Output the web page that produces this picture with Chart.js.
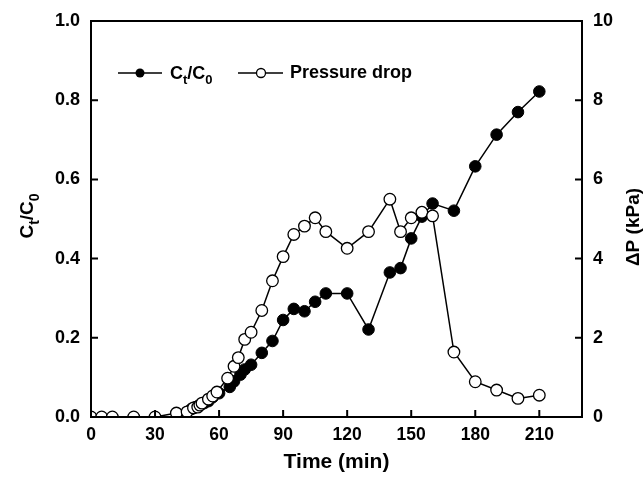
<!DOCTYPE html>
<html>
<head>
<meta charset="utf-8">
<script src="https://cdn.jsdelivr.net/npm/chart.js@4/dist/chart.umd.min.js"></script>
<style>
  body { margin: 0; background: #fff; }
  #wrap { width: 644px; height: 477px; position: relative; }
</style>
</head>
<body>
<div id="wrap"><canvas id="grafico"></canvas></div>
<script>
// Ct/C0 (filled circles), left axis
const tempoCt = [47, 49, 51, 53, 55, 57, 60, 65, 67, 70, 72, 75, 80, 85, 90, 95, 100, 105, 110, 120, 130, 140, 145, 150, 155, 160, 170, 180, 190, 200, 210];
const razaoCt = [0.02, 0.025, 0.03, 0.035, 0.04, 0.05, 0.06, 0.076, 0.09, 0.107, 0.12, 0.132, 0.162, 0.192, 0.245, 0.273, 0.267, 0.291, 0.312, 0.312, 0.221, 0.365, 0.376, 0.451, 0.506, 0.539, 0.521, 0.633, 0.713, 0.77, 0.822];

// pressure drop (open circles), right axis, kPa
const tempoDp = [0, 5, 10, 20, 30, 40, 45, 48, 50, 51, 52, 55, 57, 59, 64, 67, 69, 72, 75, 80, 85, 90, 95, 100, 105, 110, 120, 130, 140, 145, 150, 155, 160, 170, 180, 190, 200, 210];
const quedaPressao = [0, 0, 0, 0, 0, 0.1, 0.13, 0.23, 0.25, 0.3, 0.35, 0.45, 0.53, 0.63, 0.98, 1.28, 1.5, 1.96, 2.14, 2.69, 3.44, 4.05, 4.61, 4.82, 5.03, 4.68, 4.26, 4.68, 5.5, 4.68, 5.03, 5.17, 5.08, 1.64, 0.89, 0.68, 0.47, 0.55];

const ticksX = [0, 30, 60, 90, 120, 150, 180, 210];
const ticksEsq = [0, 0.2, 0.4, 0.6, 0.8, 1.0];
const ticksDir = [0, 2, 4, 6, 8, 10];

const FONTE = '"Liberation Sans", Arial, sans-serif';

function toPts(xs, ys) {
    return xs.map((x, i) => ({ x: x, y: ys[i] }));
}

// text with subscripts: parts = [[text, isSub], ...], centered on x
function textoRico(ctx, parts, x, y, size) {
    const subSize = Math.round(size * 0.72);
    let w = 0;
    parts.forEach(p => {
        ctx.font = `bold ${p[1] ? subSize : size}px ${FONTE}`;
        w += ctx.measureText(p[0]).width;
    });
    let cx = x - w / 2;
    ctx.textAlign = 'left';
    ctx.textBaseline = 'alphabetic';
    parts.forEach(p => {
        ctx.font = `bold ${p[1] ? subSize : size}px ${FONTE}`;
        ctx.fillText(p[0], cx, p[1] ? y + size * 0.3 : y);
        cx += ctx.measureText(p[0]).width;
    });
    return w;
}

const moldura = {
    id: 'moldura',
    afterDraw(chart) {
        const ctx = chart.ctx;
        const a = chart.chartArea;
        const sx = chart.scales.x, sy = chart.scales.y, sy2 = chart.scales.y2;
        ctx.save();
        ctx.strokeStyle = '#000';
        ctx.lineWidth = 2;
        ctx.strokeRect(a.left, a.top, a.right - a.left, a.bottom - a.top);

        // inward ticks
        ctx.beginPath();
        ticksX.slice(1).forEach(v => {
            const px = sx.getPixelForValue(v);
            ctx.moveTo(px, a.bottom);
            ctx.lineTo(px, a.bottom - 7);
        });
        ticksEsq.slice(1, -1).forEach(v => {
            const py = sy.getPixelForValue(v);
            ctx.moveTo(a.left, py);
            ctx.lineTo(a.left + 7, py);
        });
        ticksDir.slice(1, -1).forEach(v => {
            const py = sy2.getPixelForValue(v);
            ctx.moveTo(a.right, py);
            ctx.lineTo(a.right - 7, py);
        });
        ctx.stroke();

        ctx.fillStyle = '#000';
        // x title
        ctx.font = `bold 21px ${FONTE}`;
        ctx.textAlign = 'center';
        ctx.textBaseline = 'middle';
        ctx.fillText('Time (min)', (a.left + a.right) / 2, 462);

        // left title
        ctx.save();
        ctx.translate(33, 216);
        ctx.rotate(-Math.PI / 2);
        textoRico(ctx, [['C', false], ['t', true], ['/C', false], ['0', true]], 0, 0, 19);
        ctx.restore();

        // right title
        ctx.save();
        ctx.translate(639, 227);
        ctx.rotate(-Math.PI / 2);
        ctx.font = `bold 19px ${FONTE}`;
        ctx.textAlign = 'center';
        ctx.textBaseline = 'alphabetic';
        ctx.fillText('\u0394P (kPa)', 0, 0);
        ctx.restore();

        // legend
        const ly = 73;
        ctx.lineWidth = 1.5;
        ctx.beginPath();
        ctx.moveTo(118, ly); ctx.lineTo(162, ly);
        ctx.moveTo(238, ly); ctx.lineTo(283, ly);
        ctx.stroke();
        ctx.beginPath();
        ctx.arc(140, ly, 4.5, 0, Math.PI * 2);
        ctx.fill();
        ctx.beginPath();
        ctx.arc(261, ly, 4.5, 0, Math.PI * 2);
        ctx.fillStyle = '#fff';
        ctx.fill();
        ctx.lineWidth = 1.3;
        ctx.stroke();
        ctx.fillStyle = '#000';
        const partsLeg = [['C', false], ['t', true], ['/C', false], ['0', true]];
        let w = 0;
        partsLeg.forEach(p => {
            ctx.font = `bold ${p[1] ? 13 : 18}px ${FONTE}`;
            w += ctx.measureText(p[0]).width;
        });
        textoRico(ctx, partsLeg, 170 + w / 2, ly + 6, 18);
        ctx.font = `bold 18px ${FONTE}`;
        ctx.textAlign = 'left';
        ctx.textBaseline = 'middle';
        ctx.fillText('Pressure drop', 290, ly);
        ctx.restore();
    }
};

const fonteTickY = { family: FONTE, size: 18, weight: 'bold' };
const fonteTickX = { family: FONTE, size: 17.5, weight: 'bold' };

new Chart(document.getElementById('grafico'), {
    type: 'scatter',
    data: {
        datasets: [{
            label: 'Ct/C0',
            data: toPts(tempoCt, razaoCt),
            yAxisID: 'y',
            showLine: true,
            borderColor: '#000',
            borderWidth: 1.5,
            pointRadius: 5.8,
            pointHoverRadius: 5.8,
            pointBackgroundColor: '#000',
            pointBorderColor: '#000',
            pointBorderWidth: 1,
            order: 1
        }, {
            label: 'Pressure drop',
            data: toPts(tempoDp, quedaPressao),
            yAxisID: 'y2',
            showLine: true,
            borderColor: '#000',
            borderWidth: 1.5,
            pointRadius: 5.8,
            pointHoverRadius: 5.8,
            pointBackgroundColor: '#fff',
            pointBorderColor: '#000',
            pointBorderWidth: 1.3,
            order: 0
        }]
    },
    options: {
        responsive: true,
        maintainAspectRatio: false,
        animation: false,
        layout: { padding: { top: 21, left: 0, right: 0, bottom: 0 } },
        plugins: {
            legend: { display: false },
            tooltip: { enabled: false }
        },
        scales: {
            x: {
                type: 'linear',
                min: 0,
                max: 230,
                afterBuildTicks: s => { s.ticks = ticksX.map(v => ({ value: v })); },
                afterFit: s => { s.height = 60; },
                grid: { display: false },
                border: { display: false },
                ticks: { color: '#000', font: fonteTickX, padding: 0, maxRotation: 0 }
            },
            y: {
                position: 'left',
                min: 0,
                max: 1,
                afterBuildTicks: s => { s.ticks = ticksEsq.map(v => ({ value: v })); },
                afterFit: s => { s.width = 91; },
                grid: { display: false },
                border: { display: false },
                ticks: { color: '#000', font: fonteTickY, padding: 3, callback: v => v.toFixed(1) }
            },
            y2: {
                position: 'right',
                min: 0,
                max: 10,
                afterBuildTicks: s => { s.ticks = ticksDir.map(v => ({ value: v })); },
                afterFit: s => { s.width = 62; },
                grid: { display: false },
                border: { display: false },
                ticks: { color: '#000', font: fonteTickY, padding: 3 }
            }
        }
    },
    plugins: [moldura]
});
</script>
</body>
</html>
